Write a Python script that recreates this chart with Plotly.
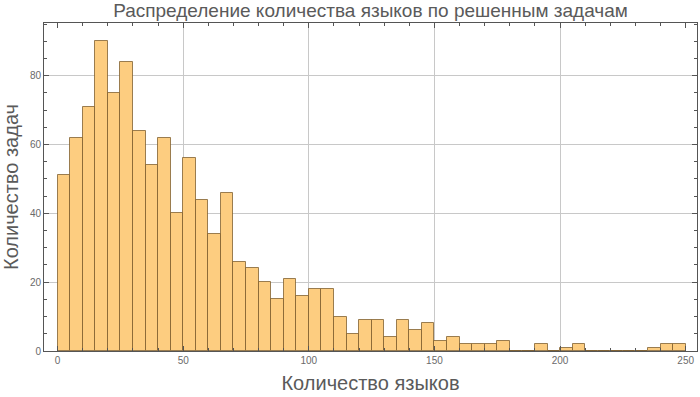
import plotly.graph_objects as go

bin_starts = [0, 5, 10, 15, 20, 25, 30, 35, 40, 45, 50, 55, 60, 65, 70, 75, 80, 85, 90, 95,
              100, 105, 110, 115, 120, 125, 130, 135, 140, 145, 150, 155, 160, 165, 170, 175,
              180, 185, 190, 195, 200, 205, 210, 215, 220, 225, 230, 235, 240, 245]
bin_width = 5
counts = [51, 62, 71, 90, 75, 84, 64, 54, 62, 40, 56, 44, 34, 46, 26, 24, 20, 15, 21, 16,
          18, 18, 10, 5, 9, 9, 4, 9, 6, 8, 3, 4, 2, 2, 2, 3, 0, 0, 2, 0,
          1, 2, 0, 0, 0, 0, 0, 1, 2, 2]

x_ticks = [0, 50, 100, 150, 200, 250]
x_grid = [50, 100, 150, 200]
y_ticks = [0, 20, 40, 60, 80]

title = "Распределение количества языков по решенным задачам"
x_title = "Количество языков"
y_title = "Количество задач"

FONT = "Liberation Sans, Arial, sans-serif"
FRAME = "#555555"
GRID = "#c8c8c8"
TEXT = "#5a5a5a"
TICKFONT = dict(family=FONT, size=10, color="#6a6a6a")

xr = [-5.4, 254.5]
yr = [0, 95.3]

fig = go.Figure()
fig.add_trace(go.Bar(
    x=bin_starts, y=counts, width=bin_width, offset=0,
    marker=dict(color="#fdcd80", line=dict(color="rgba(120,88,40,0.75)", width=1)),
    showlegend=False, hoverinfo="x+y",
))
# empty trace so the grid-only overlay axis exists
fig.add_trace(go.Scatter(x=[], y=[], xaxis="x2", yaxis="y", showlegend=False))

fig.update_layout(
    width=700, height=397,
    margin=dict(l=44, r=3, t=23, b=46),
    paper_bgcolor="white", plot_bgcolor="white",
    bargap=0,
    title=dict(text=title, x=0.5, xref="paper", xanchor="center",
               yref="container", y=0.99, yanchor="top",
               font=dict(family=FONT, size=19, color=TEXT)),
    xaxis=dict(
        range=xr, tickmode="array", tickvals=x_ticks, ticktext=[str(v) for v in x_ticks],
        showgrid=False, zeroline=False, automargin=False,
        showline=True, linecolor=FRAME, linewidth=1, mirror="ticks",
        ticks="inside", ticklen=5, tickcolor=FRAME, tickwidth=1,
        minor=dict(dtick=10, tick0=0, ticks="inside", ticklen=3, tickcolor=FRAME, showgrid=False),
        tickfont=TICKFONT,
        title=dict(text=x_title, font=dict(family=FONT, size=20, color=TEXT), standoff=10),
    ),
    xaxis2=dict(
        range=xr, overlaying="x", matches="x", tickmode="array", tickvals=x_grid,
        showgrid=True, gridcolor=GRID, gridwidth=1, showticklabels=False, ticks="",
        showline=False, zeroline=False,
    ),
    yaxis=dict(
        range=yr, tickmode="array", tickvals=y_ticks,
        showgrid=True, gridcolor=GRID, gridwidth=1, zeroline=False, automargin=False,
        showline=True, linecolor=FRAME, linewidth=1, mirror="ticks",
        ticks="inside", ticklen=5, tickcolor=FRAME, tickwidth=1,
        minor=dict(dtick=5, tick0=0, ticks="inside", ticklen=3, tickcolor=FRAME, showgrid=False),
        tickfont=TICKFONT,
        title=dict(text=y_title, font=dict(family=FONT, size=20, color=TEXT), standoff=8),
    ),
)

fig.write_html("out.html", config={"displayModeBar": False},
               post_script="document.body.style.margin='0';document.body.style.padding='0';")
